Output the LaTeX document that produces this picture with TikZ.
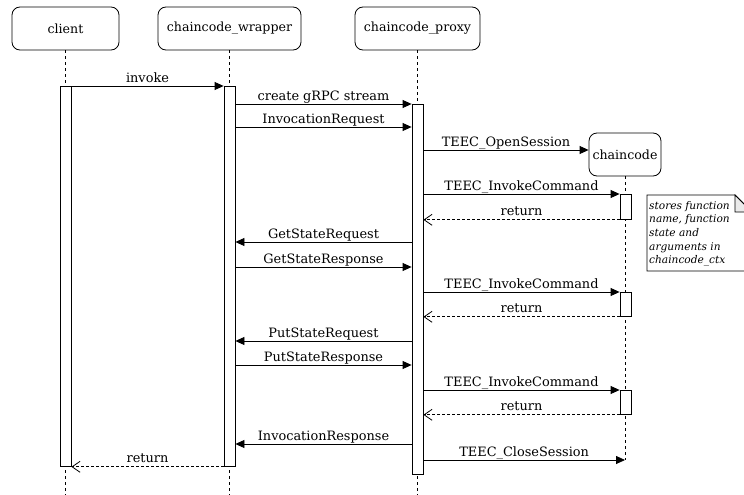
\documentclass[tikz,border=0pt]{standalone}
\usepackage{fontspec}
\setmainfont{DejaVu Serif}
\usetikzlibrary{arrows.meta}

\begin{document}
\begin{tikzpicture}[x=1pt,y=-1pt,
  head/.style={draw, rounded corners=8pt, line width=0.8pt, inner sep=0pt,
    minimum height=43pt, font=\fontsize{12.6}{15}\selectfont},
  life/.style={draw, dash pattern=on 3pt off 3pt, line width=0.7pt},
  actbar/.style={draw, fill=white, line width=0.8pt, minimum width=11pt,
    inner sep=0pt, anchor=north},
  msg/.style={line width=0.8pt, -{Triangle[length=9pt,width=8pt]}},
  reply/.style={line width=0.8pt, dash pattern=on 3pt off 2pt,
    -{Straight Barb[length=8pt,width=11pt]}},
  lbl/.style={midway, anchor=base, yshift=4pt, inner sep=0pt,
    font=\fontsize{12.9}{15}\selectfont}
]
\useasboundingbox (0,0) rectangle (744,495);

% participants
\node[head, minimum width=107pt] (client)  at (65.5,28.5)  {client};
\node[head, minimum width=143pt] (wrapper) at (229.5,28.5) {chaincode\_wrapper};
\node[head, minimum width=125pt] (proxy)   at (417.5,28.5) {chaincode\_proxy};
\node[head, minimum width=72pt]  (cc)      at (625,154.5)  {chaincode};

% lifeline ends
\coordinate (clientend)  at (65.5,495);
\coordinate (wrapperend) at (229.5,495);
\coordinate (proxyend)   at (417.5,495);
\coordinate (ccend)      at (625,460);

\draw[life] (client.south)  -- (clientend);
\draw[life] (wrapper.south) -- (wrapperend);
\draw[life] (proxy.south)   -- (proxyend);
\draw[life] (cc.south)      -- (ccend);

% activation bars
\node[actbar, minimum height=380pt] (cbar) at (65.5,86)  {};
\node[actbar, minimum height=380pt] (wbar) at (229.5,86) {};
\node[actbar, minimum height=370pt] (pbar) at (417.5,104) {};
\node[actbar, minimum height=25pt]  (kbar1) at (625.5,194) {};
\node[actbar, minimum height=24pt]  (kbar2) at (625.5,292) {};
\node[actbar, minimum height=24pt]  (kbar3) at (625.5,390) {};

% messages
\draw[msg] (cbar.east |- 0,86) -- (wbar.west |- 0,86) node[lbl] {invoke};
\draw[msg] (wbar.east |- 0,104) -- (pbar.north west) node[lbl] {create gRPC stream};
\draw[msg] (wbar.east |- 0,127) -- (pbar.west |- 0,127) node[lbl] {InvocationRequest};
\draw[msg] (pbar.east |- 0,150) -- (cc.west |- 0,150) node[lbl] {TEEC\_OpenSession};
\draw[msg] (pbar.east |- 0,194) -- (kbar1.north west) node[lbl] {TEEC\_InvokeCommand};
\draw[reply] (kbar1.south west) -- (pbar.east |- kbar1.south west) node[lbl] {return};
\draw[msg] (pbar.west |- 0,242) -- (wbar.east |- 0,242) node[lbl] {GetStateRequest};
\draw[msg] (wbar.east |- 0,267) -- (pbar.west |- 0,267) node[lbl] {GetStateResponse};
\draw[msg] (pbar.east |- 0,292) -- (kbar2.north west) node[lbl] {TEEC\_InvokeCommand};
\draw[reply] (kbar2.south west) -- (pbar.east |- kbar2.south west) node[lbl] {return};
\draw[msg] (pbar.west |- 0,341) -- (wbar.east |- 0,341) node[lbl] {PutStateRequest};
\draw[msg] (wbar.east |- 0,365) -- (pbar.west |- 0,365) node[lbl] {PutStateResponse};
\draw[msg] (pbar.east |- 0,390) -- (kbar3.north west) node[lbl] {TEEC\_InvokeCommand};
\draw[reply] (kbar3.south west) -- (pbar.east |- kbar3.south west) node[lbl] {return};
\draw[msg] (pbar.west |- 0,444) -- (wbar.east |- 0,444) node[lbl] {InvocationResponse};
\draw[msg] (pbar.east |- 0,460) -- (ccend) node[lbl] {TEEC\_CloseSession};
\draw[reply] (wbar.south west) -- (cbar.east |- wbar.south west) node[lbl] {return};

% note
\draw[line width=0.8pt, fill=white] (647,195) -- (735,195) -- (752,212) -- (752,271) -- (647,271) -- cycle;
\draw[line width=0.8pt, fill=black!8] (735,195) -- (735,212) -- (752,212) -- cycle;
\node[anchor=north west, align=left, inner sep=0pt,
  font=\fontsize{10.6}{13.6}\selectfont\itshape] (note) at (649,201)
  {stores function\\name, function\\state and\\arguments in\\chaincode\_ctx};
\end{tikzpicture}
\end{document}
